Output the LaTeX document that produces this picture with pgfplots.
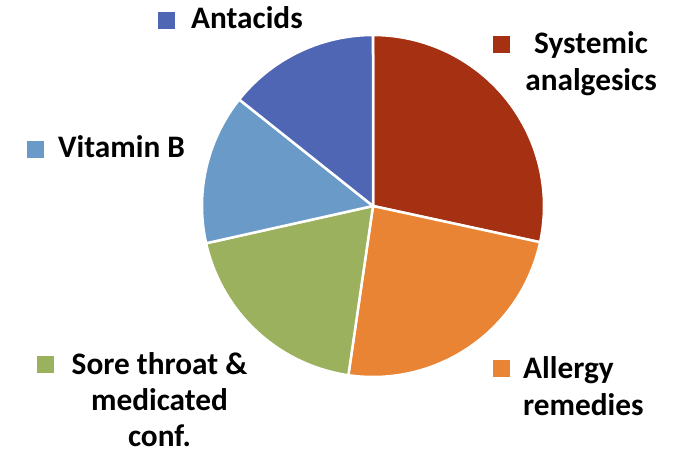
\documentclass[border=0pt]{standalone}
\usepackage{pgfplots}
\pgfplotsset{compat=1.18}
\usepackage{fontspec}
\setmainfont{Carlito}
\definecolor{cAnt}{HTML}{4E66B3}
\definecolor{cSys}{HTML}{A63112}
\definecolor{cAll}{HTML}{E88433}
\definecolor{cSor}{HTML}{9BB15E}
\definecolor{cVit}{HTML}{6A9BC8}
% shares (percent), clockwise from 12 o'clock
\def\vSys{28.4}
\def\vAll{23.9}
\def\vSor{19.2}
\def\vVit{14.2}
\def\vAnt{14.3}
\newcommand{\pieslice}[3]{%
  \addplot[fill=#3, draw=white, line width=2.5pt, domain=#1:#2, samples=90, variable=\t]
    ({373+171*sin(\t)},{206-171*cos(\t)}) -- (axis cs:373,206) -- cycle;
}
\newcommand{\lbl}{\bfseries\fontsize{31.3}{36}\selectfont}
\begin{document}%
\begin{tikzpicture}
\pgfmathsetmacro{\aA}{0}
\pgfmathsetmacro{\aB}{\aA+3.6*\vSys}
\pgfmathsetmacro{\aC}{\aB+3.6*\vAll}
\pgfmathsetmacro{\aD}{\aC+3.6*\vSor}
\pgfmathsetmacro{\aE}{\aD+3.6*\vVit}
\pgfmathsetmacro{\aF}{\aE+3.6*\vAnt}
\begin{axis}[hide axis, scale only axis, width=680pt, height=455pt,
  at={(0,0)}, anchor=south west,
  xmin=0, xmax=680, ymin=0, ymax=455, y dir=reverse, clip=false]
\pieslice{\aA}{\aB}{cSys}
\pieslice{\aB}{\aC}{cAll}
\pieslice{\aC}{\aD}{cSor}
\pieslice{\aD}{\aE}{cVit}
\pieslice{\aE}{\aF}{cAnt}
% legend-like markers
\addplot[color=cAnt, only marks, mark=square*, mark size=8pt, mark options={draw=cAnt, fill=cAnt, line width=0pt}] coordinates {(166.5,20.5)};
\addplot[color=cSys, only marks, mark=square*, mark size=8pt, mark options={draw=cSys, fill=cSys, line width=0pt}] coordinates {(501,44.5)};
\addplot[color=cVit, only marks, mark=square*, mark size=8pt, mark options={draw=cVit, fill=cVit, line width=0pt}] coordinates {(35,149.5)};
\addplot[color=cSor, only marks, mark=square*, mark size=8pt, mark options={draw=cSor, fill=cSor, line width=0pt}] coordinates {(45,364)};
\addplot[color=cAll, only marks, mark=square*, mark size=8pt, mark options={draw=cAll, fill=cAll, line width=0pt}] coordinates {(501,368)};
% labels
\node[anchor=base west, inner sep=0pt, font=\lbl] at (axis cs:191,28) {Antacids};
\node[anchor=base, inner sep=0pt, font=\lbl] at (axis cs:591,53.5) {Systemic};
\node[anchor=base, inner sep=0pt, font=\lbl] at (axis cs:591,90) {analgesics};
\node[anchor=base west, inner sep=0pt, font=\lbl] at (axis cs:58,157.5) {Vitamin B};
\node[anchor=base, inner sep=0pt, font=\lbl] at (axis cs:159.5,374) {Sore throat \&};
\node[anchor=base, inner sep=0pt, font=\lbl] at (axis cs:159.5,410) {medicated};
\node[anchor=base, inner sep=0pt, font=\lbl] at (axis cs:159.5,446) {conf.};
\node[anchor=base west, inner sep=0pt, font=\lbl] at (axis cs:523,378) {Allergy};
\node[anchor=base west, inner sep=0pt, font=\lbl] at (axis cs:523,415) {remedies};
\end{axis}
\pgfresetboundingbox
\path[use as bounding box] (0,0) rectangle (680pt,455pt);
\end{tikzpicture}%
\end{document}
